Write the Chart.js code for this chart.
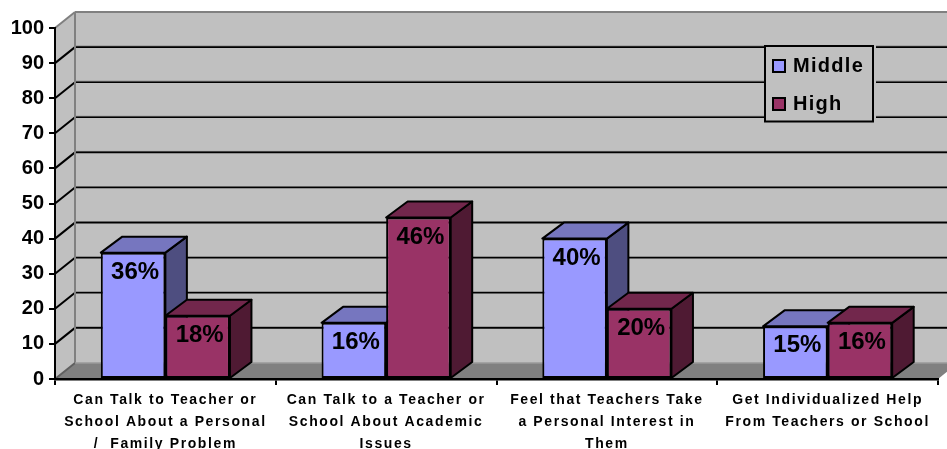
<!DOCTYPE html>
<html><head><meta charset="utf-8">
<style>html,body{margin:0;padding:0;background:#fff}canvas{display:block}</style>
<script src="https://cdn.jsdelivr.net/npm/chart.js@4"></script>
</head><body><div style="width:947px;height:449px"><canvas id="c"></canvas></div>
<script>
const categories = [
  ["Can Talk to Teacher or","School About a Personal","/  Family Problem"],
  ["Can Talk to a Teacher or","School About Academic","Issues"],
  ["Feel that Teachers Take","a Personal Interest in","Them"],
  ["Get Individualized Help","From Teachers or School"]
];
const middle = [36,16,40,15];
const high = [18,46,20,16];
const yTicks = [0,10,20,30,40,50,60,70,80,90,100];

const FF = '"Liberation Sans", Arial, sans-serif';
const WALL = {dx:20, dy:16};
const BAR = {dx:21.5, dy:16};
const faces = [{top:'#7676BF',side:'#4E4E80'},{top:'#72274C',side:'#4F1A33'}];

function poly(ctx, pts, fill, stroke, lw){
  ctx.beginPath();
  pts.forEach((p,i)=> i?ctx.lineTo(p[0],p[1]):ctx.moveTo(p[0],p[1]));
  ctx.closePath();
  if(fill){ctx.fillStyle=fill;ctx.fill();}
  if(stroke){ctx.strokeStyle=stroke;ctx.lineWidth=lw;ctx.lineJoin='round';ctx.stroke();}
}
function line(ctx,x1,y1,x2,y2,c,w){
  ctx.beginPath();ctx.moveTo(x1,y1);ctx.lineTo(x2,y2);ctx.strokeStyle=c;ctx.lineWidth=w;ctx.stroke();
}
const scene = {
  id:'scene',
  beforeDraw(chart){
    const {ctx,chartArea:a,scales:{x,y}} = chart;
    if(!x._spaced){
      x._spaced=true;
      const o=x.drawLabels;
      x.drawLabels=function(area){ctx.save();ctx.letterSpacing='1.6px';o.call(this,area);ctx.restore();};
    }
    const W=chart.width;
    const b=a.bottom,t=a.top,l=a.left,r=a.right,dx=WALL.dx,dy=WALL.dy;
    ctx.save();
    poly(ctx,[[l+dx,t-dy],[W+2,t-dy],[W+2,b-dy],[l+dx,b-dy]],'#C0C0C0');
    poly(ctx,[[l,t],[l+dx,t-dy],[l+dx,b-dy],[l,b]],'#C0C0C0');
    poly(ctx,[[l,b],[l+dx,b-dy],[W+2,b-dy],[W+2,b-dy+(r+dx-W-2)*dy/dx],[r,b]],'#808080');
    yTicks.forEach(v=>{
      const py=y.getPixelForValue(v);
      if(v===0||v===100) return;
      line(ctx,l,py,l+dx,py-dy,'#000',2);
      line(ctx,l+dx,py-dy-1,W,py-dy-1,'#808080',1);
      line(ctx,l+dx,py-dy,W,py-dy,'#000',1.6);
    });
    line(ctx,l,t,l+dx,t-dy,'#808080',2);
    line(ctx,l+dx,t-dy,W,t-dy,'#808080',2);
    line(ctx,l+dx,t-dy,l+dx,b-dy,'#808080',2);
    line(ctx,l,b,l+dx,b-dy,'#606060',2);
    line(ctx,l+dx,b-dy,W,b-dy,'#9a9a9a',1.5);
    ctx.restore();
  },
  beforeDatasetsDraw(chart){
    const {ctx}=chart;
    ctx.save();
    chart.data.labels.forEach((_,i)=>{
      chart.data.datasets.forEach((ds,d)=>{
        const el=chart.getDatasetMeta(d).data[i];
        const L=el.x-el.width/2,R=el.x+el.width/2,T=el.y,B=el.base;
        poly(ctx,[[R,T],[R+BAR.dx,T-BAR.dy],[R+BAR.dx,B-BAR.dy],[R,B]],faces[d].side,'#000',2);
        poly(ctx,[[L,T],[L+BAR.dx,T-BAR.dy],[R+BAR.dx,T-BAR.dy],[R,T]],faces[d].top,'#000',2);
      });
    });
    ctx.restore();
  },
  afterDatasetsDraw(chart){
    const {ctx}=chart;
    ctx.save();
    ctx.font='bold 24px '+FF;ctx.fillStyle='#000';ctx.textAlign='center';ctx.textBaseline='middle';
    chart.data.datasets.forEach((ds,d)=>{
      chart.getDatasetMeta(d).data.forEach((el,i)=>{
        ctx.fillText(ds.data[i]+'%',el.x+2,el.y+19.5);
      });
    });
    ctx.restore();
  },
  afterDraw(chart){
    const {ctx}=chart;
    ctx.save();
    ctx.fillStyle='#C0C0C0';ctx.fillRect(764,45,112,77);
    ctx.strokeStyle='#000';ctx.lineWidth=2;ctx.strokeRect(765,46,108,75.5);
    ctx.font='bold 20px '+FF;ctx.textBaseline='middle';ctx.letterSpacing='1.3px';
    chart.data.datasets.forEach((ds,d)=>{
      const yy=66+d*38;
      ctx.fillStyle=ds.backgroundColor;ctx.fillRect(773,yy-6,12,12);
      ctx.strokeRect(773,yy-6,12,12);
      ctx.fillStyle='#000';ctx.fillText(ds.label,793,yy+0.5);
    });
    ctx.restore();
  }
};
new Chart(document.getElementById('c'),{
  type:'bar',
  data:{labels:categories,datasets:[
    {label:'Middle',data:middle,backgroundColor:'#9999FF',borderColor:'#000',borderWidth:2,borderSkipped:false},
    {label:'High',data:high,backgroundColor:'#993366',borderColor:'#000',borderWidth:2,borderSkipped:false}
  ]},
  plugins:[scene],
  options:{
    responsive:true,maintainAspectRatio:false,animation:false,
    layout:{padding:{left:0,right:9,top:28,bottom:0}},
    datasets:{bar:{categoryPercentage:0.585,barPercentage:1}},
    plugins:{legend:{display:false},tooltip:{enabled:false},title:{display:false}},
    scales:{
      x:{
        afterFit(s){s.height=70;},
        grid:{drawOnChartArea:false,drawTicks:true,tickLength:6,color:'#000',lineWidth:2},
        border:{color:'#000',width:2.5},
        ticks:{autoSkip:false,maxRotation:0,minRotation:0,padding:4,color:'#000',
          font:{family:FF,size:14,weight:'bold',lineHeight:1.57}}
      },
      y:{
        min:0,max:100,
        afterFit(s){s.width=55;},
        grid:{drawOnChartArea:false,drawTicks:true,tickLength:6,color:'#000',lineWidth:2},
        border:{color:'#000',width:2},
        ticks:{stepSize:10,padding:5,color:'#000',font:{family:FF,size:20,weight:'bold'}}
      }
    }
  }
});
</script></body></html>
